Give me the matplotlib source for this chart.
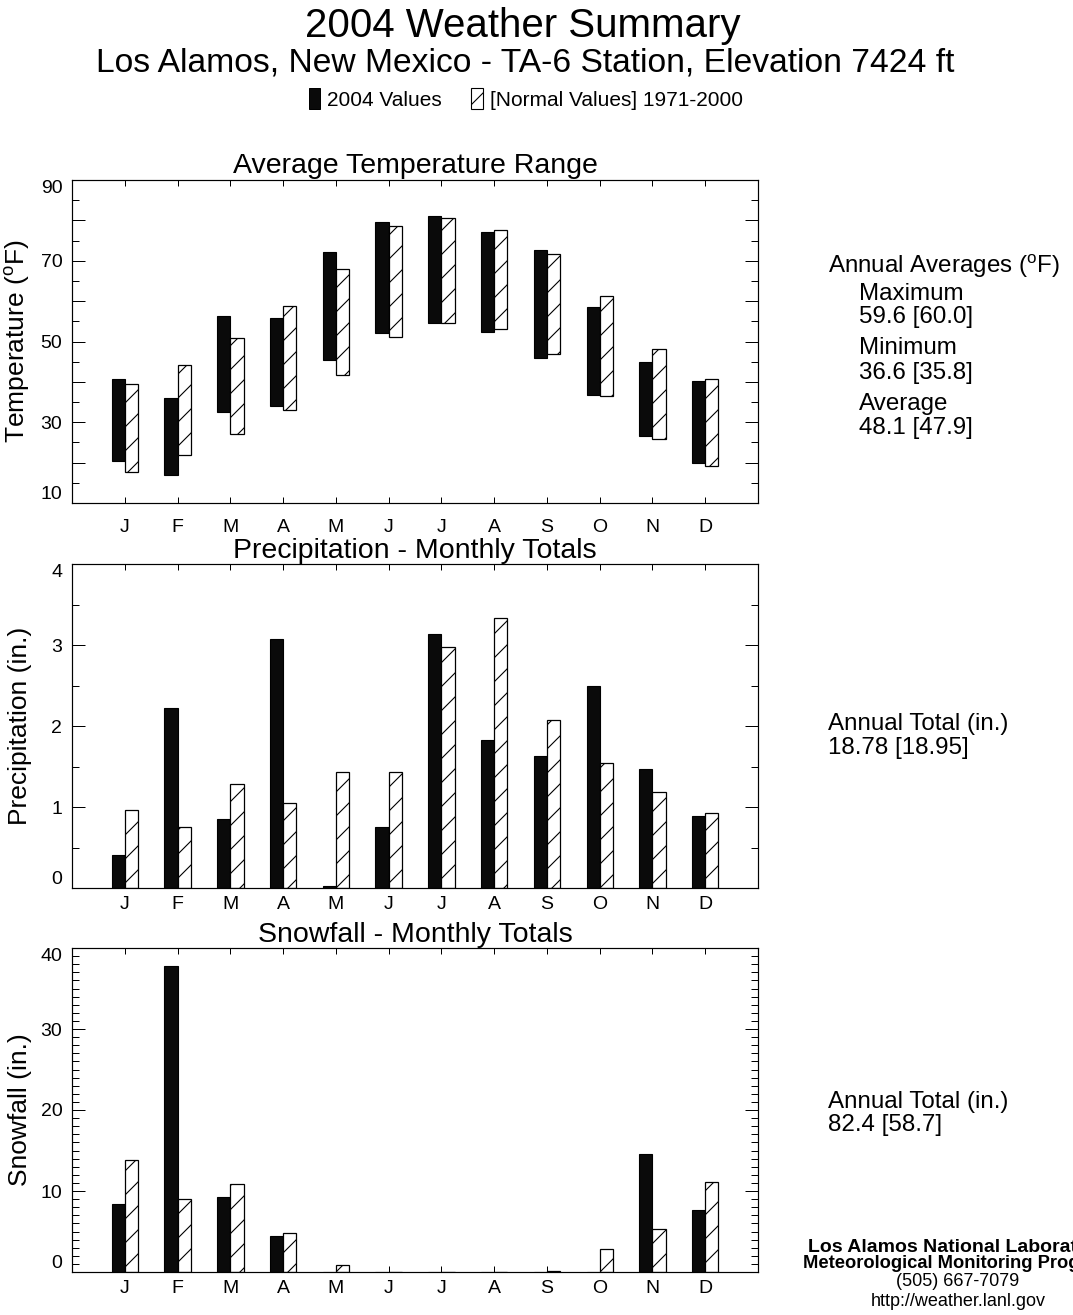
import matplotlib
matplotlib.use('Agg')
import matplotlib.pyplot as plt
import numpy as np
from matplotlib.patches import Patch
from matplotlib.ticker import FixedLocator, MultipleLocator, FuncFormatter, NullLocator

DPI = 72
K = 100 / DPI  # sizes below are given as points at 100 dpi, scaled to keep pixel sizes

plt.rcParams['font.family'] = ['Liberation Sans', 'DejaVu Sans']
plt.rcParams['mathtext.fontset'] = 'custom'
plt.rcParams['mathtext.rm'] = 'Liberation Sans'
plt.rcParams['hatch.linewidth'] = 0.8 * K

# ---------------- data ----------------
months = ['J', 'F', 'M', 'A', 'M', 'J', 'J', 'A', 'S', 'O', 'N', 'D']

temp_max_2004 = [40.7, 36.0, 56.4, 55.9, 72.2, 79.5, 81.1, 77.0, 72.6, 58.6, 45.0, 40.1]
temp_min_2004 = [20.3, 17.0, 32.6, 34.0, 45.3, 52.1, 54.6, 52.4, 46.0, 36.8, 26.7, 19.9]
temp_max_norm = [39.5, 44.2, 50.8, 58.9, 67.9, 78.5, 80.6, 77.7, 71.7, 61.2, 48.1, 40.6]
temp_min_norm = [17.7, 21.8, 27.0, 33.0, 41.6, 51.2, 54.6, 53.0, 46.9, 36.6, 25.8, 19.1]

precip_2004 = [0.41, 2.22, 0.85, 3.08, 0.02, 0.75, 3.13, 1.83, 1.63, 2.50, 1.47, 0.89]
precip_norm = [0.96, 0.75, 1.28, 1.05, 1.43, 1.43, 2.97, 3.33, 2.08, 1.54, 1.19, 0.92]

snow_2004 = [8.4, 37.8, 9.3, 4.4, 0.0, 0.0, 0.0, 0.0, 0.0, 0.0, 14.6, 7.7]
snow_norm = [13.8, 9.0, 10.9, 4.8, 0.9, 0.0, 0.0, 0.0, 0.1, 2.9, 5.3, 11.1]

title = '2004 Weather Summary'
subtitle = 'Los Alamos, New Mexico - TA-6 Station, Elevation 7424 ft'
legend_labels = ['2004 Values', '[Normal Values] 1971-2000']
temp_text = ['Annual Averages ($^\\mathrm{o}$F)', 'Maximum', '59.6 [60.0]', 'Minimum',
             '36.6 [35.8]', 'Average', '48.1 [47.9]']
precip_text = ['Annual Total (in.)', '18.78 [18.95]']
snow_text = ['Annual Total (in.)', '82.4 [58.7]']
footer = ['Los Alamos National Laboratory', 'Meteorological Monitoring Program',
          '(505) 667-7079', 'http://weather.lanl.gov']

# ---------------- figure ----------------
W, H = 1073, 1315
fig = plt.figure(figsize=(W / DPI, H / DPI), dpi=DPI)

def fy(px):
    return 1 - px / H

def fx(px):
    return px / W

x = np.arange(1, len(months) + 1)
bw = 0.25

def make_axes(top_px, bottom_px):
    return fig.add_axes([fx(72), fy(bottom_px), fx(758) - fx(72), (bottom_px - top_px) / H])

def style(ax, ylim, major, minor, fmt, xpad):
    ax.set_xlim(0, 13)
    ax.set_ylim(*ylim)
    ax.set_xticks(x)
    ax.set_xticklabels(months)
    ax.xaxis.set_minor_locator(NullLocator())
    ax.yaxis.set_major_locator(FixedLocator(major))
    ax.yaxis.set_minor_locator(MultipleLocator(minor))
    ax.yaxis.set_major_formatter(FuncFormatter(fmt))
    ax.tick_params(axis='x', which='major', direction='in', top=True, bottom=True,
                   length=6 * K * 0.72, width=1.0 * K * 0.72, labelsize=14 * K, pad=xpad * K)
    ax.tick_params(axis='y', which='major', direction='in', left=True, right=True,
                   length=13 * K * 0.72, width=1.0 * K * 0.72, labelsize=14 * K, pad=7 * K)
    ax.tick_params(axis='y', which='minor', direction='in', left=True, right=True,
                   length=7 * K * 0.72, width=1.0 * K * 0.72)
    for s in ax.spines.values():
        s.set_linewidth(1.2 * K * 0.72)
        s.set_color('black')
    ax.yaxis.set_label_coords(-0.058, 0.5)

# Temperature
ax1 = make_axes(180, 503)
ax1.bar(x, np.array(temp_max_2004) - np.array(temp_min_2004), bottom=temp_min_2004,
        width=-bw, align='edge', color='#0a0a0a', edgecolor='black', linewidth=0.8 * K)
ax1.bar(x, np.array(temp_max_norm) - np.array(temp_min_norm), bottom=temp_min_norm,
        width=bw, align='edge', color='white', edgecolor='black', linewidth=0.9 * K, hatch='/')
style(ax1, (10, 90), list(range(10, 91, 10)), 5,
      lambda v, p: f'{v:.0f}' if int(round(v)) % 20 == 10 else '', 11.5)
ax1.set_title('Average Temperature Range', fontsize=20.5 * K, pad=5 * K)
ax1.set_ylabel('Temperature ($^\\mathrm{o}$F)', fontsize=19 * K)

# Precipitation
ax2 = make_axes(564, 888)
ax2.bar(x, precip_2004, width=-bw, align='edge', color='#0a0a0a', edgecolor='black',
        linewidth=0.8 * K)
ax2.bar(x, precip_norm, width=bw, align='edge', color='white', edgecolor='black',
        linewidth=0.9 * K, hatch='/')
style(ax2, (0, 4), [0, 1, 2, 3, 4], 0.5, lambda v, p: f'{v:.0f}', 5.8)
ax2.set_title('Precipitation - Monthly Totals', fontsize=20.5 * K, pad=4.5 * K)
ax2.set_ylabel('Precipitation (in.)', fontsize=19 * K)

# Snowfall
ax3 = make_axes(948, 1272)
ax3.bar(x, snow_2004, width=-bw, align='edge', color='#0a0a0a', edgecolor='black',
        linewidth=0.8 * K)
ax3.bar(x, snow_norm, width=bw, align='edge', color='white', edgecolor='black',
        linewidth=0.9 * K, hatch='/')
style(ax3, (0, 40), [0, 10, 20, 30, 40], 1, lambda v, p: f'{v:.0f}', 5.8)
ax3.set_title('Snowfall - Monthly Totals', fontsize=20.5 * K, pad=4.5 * K)
ax3.set_ylabel('Snowfall (in.)', fontsize=19 * K)

# Titles
fig.text(0.487, fy(37), title, ha='center', va='baseline', fontsize=29 * K)
fig.text(0.489, fy(71), subtitle, ha='center', va='baseline', fontsize=24.2 * K)

handles = [Patch(facecolor='#0a0a0a', edgecolor='black'),
           Patch(facecolor='white', edgecolor='black', hatch='/', linewidth=0.8 * K)]
fig.legend(handles, legend_labels, loc='center', bbox_to_anchor=(0.49, fy(99)), ncol=2,
           frameon=False, fontsize=15 * K, handlelength=0.55, handleheight=1.15,
           handletextpad=0.35, columnspacing=1.4, borderpad=0, borderaxespad=0)

# Right-side annotations
ys = [266, 293.5, 317.5, 348.5, 373, 404, 428]
for i, (t, y) in enumerate(zip(temp_text, ys)):
    fig.text(fx(828) if i == 0 else fx(859), fy(y), t, ha='left', va='center', fontsize=17.4 * K)
for t, y in zip(precip_text, [724, 748]):
    fig.text(fx(828), fy(y), t, ha='left', va='center', fontsize=17.4 * K)
for t, y in zip(snow_text, [1102, 1125]):
    fig.text(fx(828), fy(y), t, ha='left', va='center', fontsize=17.4 * K)

fcx = fx(958)
fig.text(fcx, fy(1247), footer[0], ha='center', va='center', fontsize=14 * K, fontweight='bold')
fig.text(fcx, fy(1263), footer[1], ha='center', va='center', fontsize=13.2 * K, fontweight='bold')
fig.text(fcx, fy(1282), footer[2], ha='center', va='center', fontsize=13 * K)
fig.text(fcx, fy(1301), footer[3], ha='center', va='center', fontsize=13 * K)

fig.canvas.draw()
for ax in (ax1, ax2, ax3):
    ticks = ax.yaxis.get_major_ticks()
    ticks[0].label1.set_va('bottom')
    ticks[-1].label1.set_va('top')

fig.savefig('out.png', dpi=DPI, facecolor='white')
